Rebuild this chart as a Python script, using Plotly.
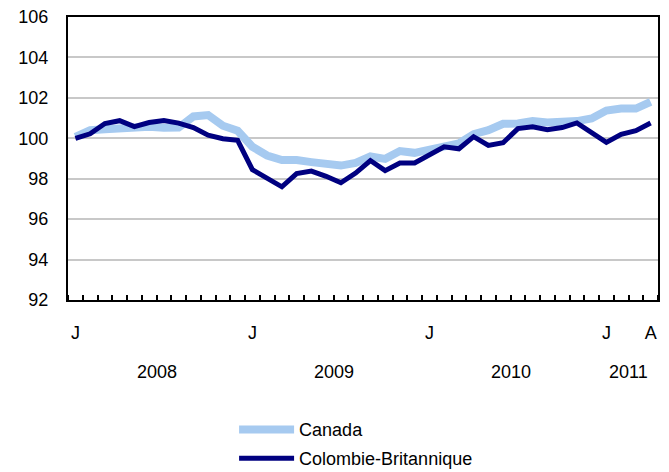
import plotly.graph_objects as go

# Monthly index, Jan 2008 .. Apr 2011
months = ["2008-01","2008-02","2008-03","2008-04","2008-05","2008-06","2008-07","2008-08","2008-09","2008-10","2008-11","2008-12",
          "2009-01","2009-02","2009-03","2009-04","2009-05","2009-06","2009-07","2009-08","2009-09","2009-10","2009-11","2009-12",
          "2010-01","2010-02","2010-03","2010-04","2010-05","2010-06","2010-07","2010-08","2010-09","2010-10","2010-11","2010-12",
          "2011-01","2011-02","2011-03","2011-04"]

canada = [100.07, 100.40, 100.45, 100.48, 100.57, 100.57, 100.52, 100.53, 101.08, 101.15, 100.62, 100.37,
          99.58, 99.15, 98.92, 98.92, 98.82, 98.70, 98.65, 98.78, 99.10, 98.98, 99.37, 99.28,
          99.45, 99.65, 99.75, 100.20, 100.40, 100.72, 100.73, 100.85, 100.78, 100.82, 100.85, 100.98,
          101.37, 101.47, 101.47, 101.80]

cb = [100.00, 100.22, 100.73, 100.87, 100.58, 100.78, 100.88, 100.75, 100.53, 100.15, 99.98, 99.90,
      98.45, 98.03, 97.60, 98.25, 98.38, 98.12, 97.80, 98.28, 98.90, 98.40, 98.78, 98.78,
      99.18, 99.58, 99.48, 100.08, 99.65, 99.78, 100.48, 100.57, 100.42, 100.53, 100.76, 100.25,
      99.80, 100.20, 100.38, 100.76]

tick_idx = [0, 12, 24, 36, 39]
tick_text = ["J", "J", "J", "J", "A"]
year_pos = [5.5, 17.5, 29.5, 37.5]
year_labels = ["2008", "2009", "2010", "2011"]
y_ticks = [92, 94, 96, 98, 100, 102, 104, 106]

x = list(range(len(months)))
FONT = "Arial, Liberation Sans, sans-serif"

fig = go.Figure()
fig.add_trace(go.Scatter(x=x, y=canada, mode="lines", name="Canada",
                         line=dict(color="#a6caf0", width=8), legend="legend"))
fig.add_trace(go.Scatter(x=x, y=cb, mode="lines", name="Colombie-Britannique",
                         line=dict(color="#000080", width=5), legend="legend2"))

for xp, lab in zip(year_pos, year_labels):
    fig.add_annotation(x=xp, y=0, xref="x", yref="paper", yshift=-72, yanchor="middle",
                       text=lab, showarrow=False, font=dict(family=FONT, size=18, color="black"))

fig.update_layout(
    width=669, height=472,
    margin=dict(l=68, r=11, t=17, b=172, autoexpand=False),
    paper_bgcolor="white", plot_bgcolor="white",
    font=dict(family=FONT, size=18, color="black"),
    legend=dict(x=0.2815, y=-0.393, xanchor="left", yanchor="top", itemwidth=55,
                font=dict(size=18), bgcolor="rgba(0,0,0,0)", tracegroupgap=0),
    legend2=dict(x=0.2815, y=-0.495, xanchor="left", yanchor="top", itemwidth=55,
                 font=dict(size=18), bgcolor="rgba(0,0,0,0)", tracegroupgap=0),
    showlegend=True,
)

fig.update_xaxes(range=[-0.5, 39.5], tickmode="array", tickvals=tick_idx, ticktext=tick_text,
                 ticks="", showgrid=False, zeroline=False, automargin=False,
                 showline=True, linecolor="black", linewidth=2, mirror=True,
                 tickfont=dict(size=18), ticklabelstandoff=15,
                 minor=dict(tick0=-0.5, dtick=1, ticks="inside", ticklen=5, tickcolor="black", tickwidth=1.5, showgrid=False))
fig.update_yaxes(range=[92, 106], tickmode="array", tickvals=y_ticks, automargin=False,
                 showgrid=True, gridcolor="#c8c8c8", gridwidth=2, zeroline=False,
                 showline=True, linecolor="black", linewidth=2, mirror=True,
                 ticks="", tickfont=dict(size=18), ticklabelstandoff=14)

fig.write_html("out.html", config={"displayModeBar": False},
               post_script="document.body.style.margin='0';document.body.style.overflow='hidden';")
